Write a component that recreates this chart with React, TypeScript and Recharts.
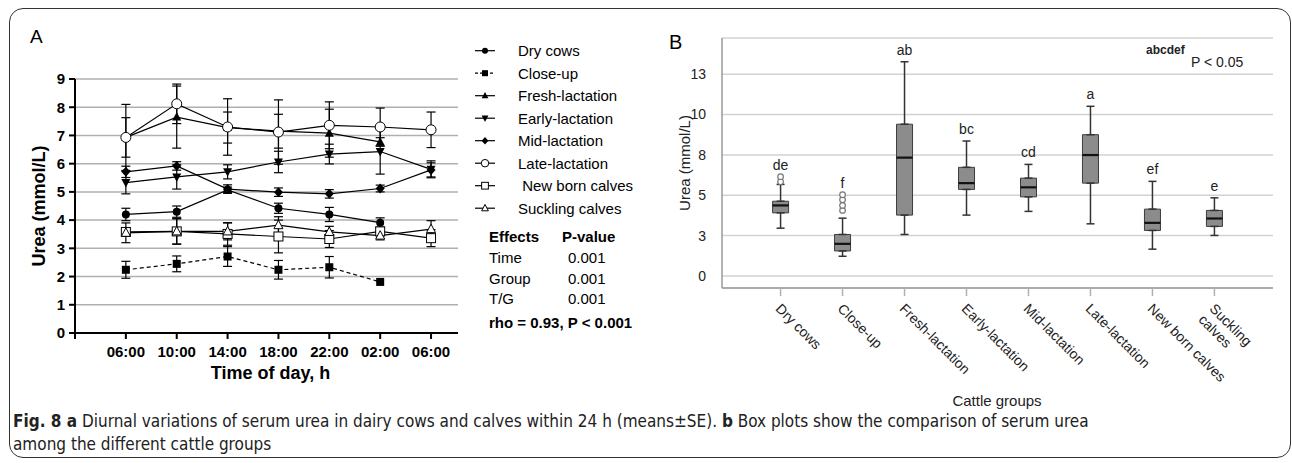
import React from 'react'
import {
  LineChart,
  Line,
  ComposedChart,
  Bar,
  Scatter,
  ErrorBar,
  XAxis,
  YAxis,
  CartesianGrid,
} from 'recharts'

const SANS = "'Liberation Sans', Arial, sans-serif"
const NARROW = "'Liberation Sans Narrow', 'DejaVu Sans Condensed', 'Liberation Sans', sans-serif"

// ---- panel A: diurnal means ± SE ----
const times = ['06:00', '10:00', '14:00', '18:00', '22:00', '02:00', '06:00']
const yTicksA = [0, 1, 2, 3, 4, 5, 6, 7, 8, 9]

const dryCows = [4.2, 4.3, 5.07, 4.42, 4.2, 3.91, null]
const dryCowsSE = [0.22, 0.2, 0.1, 0.18, 0.25, 0.17, null]
const closeUp = [2.24, 2.45, 2.71, 2.24, 2.33, 1.81, null]
const closeUpSE = [0.3, 0.28, 0.35, 0.33, 0.38, null, null]
const freshLact = [6.93, 7.65, 7.28, 7.15, 7.08, 6.77, null]
const freshLactSE = [0.7, 1.1, 0.55, 0.6, 0.85, 0.15, null]
const earlyLact = [5.33, 5.53, 5.71, 6.06, 6.34, 6.43, 5.8]
const earlyLactSE = [0.4, 0.43, 0.25, 0.38, 0.35, 0.8, 0.3]
const midLact = [5.71, 5.92, 5.1, 4.99, 4.93, 5.12, 5.78]
const midLactSE = [0.2, 0.15, 0.15, 0.15, 0.15, 0.12, 0.25]
const lateLact = [6.93, 8.12, 7.3, 7.12, 7.36, 7.3, 7.2]
const lateLactSE = [1.17, 0.7, 1.0, 1.14, 0.83, 0.67, 0.63]
const newBorn = [3.58, 3.6, 3.51, 3.42, 3.33, 3.6, 3.36]
const newBornSE = [0.1, 0.45, 0.4, 0.58, 0.3, 0.15, 0.3]
const suckling = [3.55, 3.6, 3.6, 3.82, 3.58, 3.45, 3.68]
const sucklingSE = [0.35, 0.45, 0.3, 0.3, 0.2, 0.15, 0.3]

const seriesA = [
  { key: 'dry', name: 'Dry cows', values: dryCows, se: dryCowsSE, marker: 'circle', dashed: false },
  { key: 'close', name: 'Close-up', values: closeUp, se: closeUpSE, marker: 'square', dashed: true },
  { key: 'fresh', name: 'Fresh-lactation', values: freshLact, se: freshLactSE, marker: 'triUp', dashed: false },
  { key: 'early', name: 'Early-lactation', values: earlyLact, se: earlyLactSE, marker: 'triDown', dashed: false },
  { key: 'mid', name: 'Mid-lactation', values: midLact, se: midLactSE, marker: 'diamond', dashed: false },
  { key: 'late', name: 'Late-lactation', values: lateLact, se: lateLactSE, marker: 'openCircle', dashed: false },
  { key: 'newborn', name: ' New born calves', values: newBorn, se: newBornSE, marker: 'openSquare', dashed: false },
  { key: 'suck', name: 'Suckling calves', values: suckling, se: sucklingSE, marker: 'openTri', dashed: false },
]

const effects = [
  ['Time', '0.001'],
  ['Group', '0.001'],
  ['T/G', '0.001'],
]

// ---- panel B: box plots ----
const groupTickLines = [
  ['Dry cows'],
  ['Close-up'],
  ['Fresh-lactation'],
  ['Early-lactation'],
  ['Mid-lactation'],
  ['Late-lactation'],
  ['New born calves'],
  ['Suckling', 'calves'],
]
const mins = [2.96, 1.22, 2.57, 3.77, 4.0, 3.23, 1.66, 2.51]
const q1s = [3.91, 1.55, 3.77, 5.36, 4.9, 5.75, 2.82, 3.07]
const medians = [4.37, 1.99, 7.33, 5.75, 5.49, 7.49, 3.29, 3.56]
const q3s = [4.63, 2.57, 9.4, 6.73, 6.06, 8.75, 4.14, 4.06]
const maxs = [5.67, 3.58, 13.27, 8.36, 6.91, 10.51, 5.86, 4.84]
const outliers = [[5.84, 6.15], [4.06, 4.37, 4.72, 5.03], [], [], [], [], [], []]
const letters = ['de', 'f', 'ab', 'bc', 'cd', 'a', 'ef', 'e']
const yTicksB = [0, 2.5, 5, 7.5, 10, 12.5]
const yTickLabelsB = ['0', '3', '5', '8', '10', '13']

const rowsA = times.map((t, i) => {
  const row: any = { x: i, time: t }
  seriesA.forEach((s) => {
    row[s.key] = s.values[i]
    row[s.key + 'Err'] = s.se[i]
  })
  return row
})

const rowsB = groupTickLines.map((_, i) => ({
  x: i,
  box: [q1s[i], q3s[i]],
  q1: q1s[i],
  q3: q3s[i],
  med: medians[i],
  upper: [0, maxs[i] - q3s[i]],
  lower: [q1s[i] - mins[i], 0],
  top: Math.max(maxs[i], ...outliers[i]),
  letter: letters[i],
}))

const outlierPoints = outliers.flatMap((arr, i) => arr.map((v) => ({ x: i, v })))

function Marker({ kind, cx, cy, s = 1 }: { kind: string; cx: number; cy: number; s?: number }) {
  const k = s
  switch (kind) {
    case 'circle':
      return <circle cx={cx} cy={cy} r={4 * k} fill="#000" />
    case 'square':
      return <rect x={cx - 4 * k} y={cy - 4 * k} width={8 * k} height={8 * k} fill="#000" />
    case 'triUp':
      return <path d={`M${cx},${cy - 5 * k}L${cx + 4.5 * k},${cy + 3.5 * k}L${cx - 4.5 * k},${cy + 3.5 * k}Z`} fill="#000" />
    case 'triDown':
      return <path d={`M${cx},${cy + 5 * k}L${cx + 4.5 * k},${cy - 3.5 * k}L${cx - 4.5 * k},${cy - 3.5 * k}Z`} fill="#000" />
    case 'diamond':
      return <path d={`M${cx},${cy - 5 * k}L${cx + 4.5 * k},${cy}L${cx},${cy + 5 * k}L${cx - 4.5 * k},${cy}Z`} fill="#000" />
    case 'openCircle':
      return <circle cx={cx} cy={cy} r={5 * k} fill="#fff" stroke="#000" strokeWidth={1} />
    case 'openSquare':
      return <rect x={cx - 4.5 * k} y={cy - 4.5 * k} width={9 * k} height={9 * k} fill="#fff" stroke="#000" strokeWidth={1} />
    default:
      return <path d={`M${cx},${cy - 5 * k}L${cx + 4.5 * k},${cy + 3.5 * k}L${cx - 4.5 * k},${cy + 3.5 * k}Z`} fill="#fff" stroke="#000" strokeWidth={1} />
  }
}

const ok = (v: any) => v != null && !Number.isNaN(v)

function GroupTick(props: any) {
  const { x, y, payload } = props
  const lines = groupTickLines[payload.value] || []
  return (
    <g transform={`translate(${x},${y})`}>
      <text transform="rotate(45)" fontSize={14} fontFamily={SANS} fill="#222">
        {lines.map((l, k) => (
          <tspan key={k} x={2} dy={k === 0 ? '0.72em' : '1.12em'}>
            {l}
          </tspan>
        ))}
      </text>
    </g>
  )
}

function ChartA() {
  return (
    <LineChart width={470} height={400} data={rowsA} margin={{ top: 79, right: 12, bottom: 0, left: 0 }}>
      <CartesianGrid vertical={false} stroke="#b0b0b0" strokeWidth={1.5} />
      <XAxis
        type="number"
        dataKey="x"
        domain={[-1, 6.53]}
        ticks={[-1, 0, 1, 2, 3, 4, 5, 6]}
        interval={0}
        allowDataOverflow
        height={67}
        tickFormatter={(v) => times[v] ?? ''}
        axisLine={{ stroke: '#000', strokeWidth: 2 }}
        tickLine={{ stroke: '#000', strokeWidth: 2 }}
        tickSize={6}
        tickMargin={7}
        tick={{ fill: '#000', fontSize: 15, fontWeight: 700, fontFamily: SANS }}
      />
      <YAxis
        type="number"
        domain={[0, 9]}
        ticks={yTicksA}
        interval={0}
        allowDataOverflow
        width={75}
        axisLine={{ stroke: '#000', strokeWidth: 2 }}
        tickLine={{ stroke: '#000', strokeWidth: 2 }}
        tickSize={6}
        tickMargin={4}
        tick={{ fill: '#000', fontSize: 15, fontWeight: 700, fontFamily: SANS }}
      />
      {seriesA.map((s) => (
        <Line
          key={s.key}
          dataKey={s.key}
          stroke="#000"
          strokeWidth={1.2}
          strokeDasharray={s.dashed ? '4 3' : undefined}
          isAnimationActive={false}
          activeDot={false}
          dot={(p: any) =>
            ok(p.cy) ? <Marker key={p.index} kind={s.marker} cx={p.cx} cy={p.cy} /> : <g key={p.index} />
          }
        >
          <ErrorBar dataKey={s.key + 'Err'} direction="y" width={4.5} stroke="#000" strokeWidth={1.2} />
        </Line>
      ))}
    </LineChart>
  )
}

function ChartB() {
  return (
    <ComposedChart width={640} height={420} data={rowsB} margin={{ top: 38, right: 7, bottom: 0, left: 0 }}>
      <CartesianGrid vertical={false} stroke="#d2d2d2" strokeWidth={1.5} />
      <XAxis
        type="number"
        dataKey="x"
        domain={[-0.945, 7.945]}
        ticks={[0, 1, 2, 3, 4, 5, 6, 7]}
        interval={0}
        allowDataOverflow
        height={132}
        tick={(p: any) => <GroupTick {...p} />}
        tickSize={8}
        tickMargin={5}
        axisLine={{ stroke: '#9a9a9a', strokeWidth: 1.5 }}
        tickLine={{ stroke: '#b0b0b0', strokeWidth: 1.5 }}
      />
      <YAxis
        type="number"
        domain={[-0.745, 14.74]}
        ticks={yTicksB}
        interval={0}
        allowDataOverflow
        width={82}
        tickLine={false}
        tickSize={0}
        tickMargin={16}
        tickFormatter={(v) => yTickLabelsB[yTicksB.indexOf(v)] ?? ''}
        axisLine={{ stroke: '#9a9a9a', strokeWidth: 1.5 }}
        tick={{ fill: '#222', fontSize: 14, fontFamily: SANS }}
      />
      <Scatter dataKey="q3" isAnimationActive={false} shape={() => <g />}>
        <ErrorBar dataKey="upper" direction="y" width={4} stroke="#333" strokeWidth={1.5} />
      </Scatter>
      <Scatter dataKey="q1" isAnimationActive={false} shape={() => <g />}>
        <ErrorBar dataKey="lower" direction="y" width={4} stroke="#333" strokeWidth={1.5} />
      </Scatter>
      <Bar dataKey="box" barSize={16} fill="#8c8c8c" stroke="#3c3c3c" strokeWidth={1} isAnimationActive={false} />
      <Scatter
        dataKey="med"
        isAnimationActive={false}
        shape={(p: any) =>
          ok(p.cy) ? <line x1={p.cx - 8} x2={p.cx + 8} y1={p.cy} y2={p.cy} stroke="#111" strokeWidth={2.2} /> : <g />
        }
      />
      <Scatter
        data={outlierPoints}
        dataKey="v"
        isAnimationActive={false}
        shape={(p: any) =>
          ok(p.cy) ? <circle cx={p.cx} cy={p.cy} r={2.8} fill="#fff" stroke="#777" strokeWidth={1.2} /> : <g />
        }
      />
      <Scatter
        dataKey="top"
        isAnimationActive={false}
        shape={(p: any) =>
          ok(p.cy) ? (
            <text x={p.cx} y={p.cy - 7} textAnchor="middle" fontSize={14} fontFamily={SANS} fill="#222">
              {p.payload.letter}
            </text>
          ) : (
            <g />
          )
        }
      />
    </ComposedChart>
  )
}

function Overlay() {
  const legendX = 475
  return (
    <svg width={1292} height={463} style={{ position: 'absolute', left: 0, top: 0, pointerEvents: 'none' }}>
      <text x={30} y={43} fontSize={19} fontFamily={SANS} fill="#000">A</text>
      <text x={669} y={49} fontSize={20} fontFamily={SANS} fill="#000">B</text>
      <text
        transform="translate(45,206) rotate(-90)"
        textAnchor="middle"
        fontSize={18}
        fontWeight={700}
        fontFamily={SANS}
        fill="#000"
      >
        Urea (mmol/L)
      </text>
      <text x={270.5} y={378.5} textAnchor="middle" fontSize={18} fontWeight={700} fontFamily={SANS} fill="#000">
        Time of day, h
      </text>
      {seriesA.map((s, i) => {
        const cy = 50.7 + 22.5 * i
        return (
          <g key={s.key}>
            <line
              x1={legendX}
              x2={legendX + 20}
              y1={cy}
              y2={cy}
              stroke="#000"
              strokeWidth={1.2}
              strokeDasharray={s.dashed ? '3 2' : undefined}
            />
            <Marker kind={s.marker} cx={legendX + 10} cy={cy} s={0.75} />
            <text x={518} y={cy + 5.3} fontSize={15} fontFamily={SANS} fill="#000" style={{ whiteSpace: 'pre' }}>
              {s.name}
            </text>
          </g>
        )
      })}
      <text x={489} y={242} fontSize={15} fontWeight={700} fontFamily={SANS} fill="#000">Effects</text>
      <text x={562} y={242} fontSize={15} fontWeight={700} fontFamily={SANS} fill="#000">P-value</text>
      {effects.map(([k, v], i) => (
        <g key={k}>
          <text x={489} y={263 + 20.5 * i} fontSize={15} fontFamily={SANS} fill="#000">{k}</text>
          <text x={568} y={263 + 20.5 * i} fontSize={15} fontFamily={SANS} fill="#000">{v}</text>
        </g>
      ))}
      <text x={489} y={328} fontSize={15} fontWeight={700} fontFamily={SANS} fill="#000">
        rho = 0.93, P &lt; 0.001
      </text>
      <text
        transform="translate(690,163) rotate(-90)"
        textAnchor="middle"
        fontSize={15}
        fontFamily={SANS}
        fill="#222"
      >
        Urea (mmol/L)
      </text>
      <text x={1146} y={54} fontSize={12} fontWeight={700} fontFamily={SANS} fill="#222">abcdef</text>
      <text x={1191} y={66.5} fontSize={14} fontFamily={SANS} fill="#222">P &lt; 0.05</text>
      <text x={997} y={406} textAnchor="middle" fontSize={15} fontFamily={SANS} fill="#222">Cattle groups</text>
    </svg>
  )
}

export default function App() {
  return (
    <div style={{ position: 'absolute', left: 0, top: 0, width: 1292, height: 463, background: '#fff', overflow: 'hidden' }}>
      <div
        style={{
          position: 'absolute',
          left: 9,
          top: 8,
          width: 1282,
          height: 450,
          border: '1.5px solid #333',
          borderRadius: 14,
          boxSizing: 'border-box',
        }}
      />
      <div style={{ position: 'absolute', left: 0, top: 0 }}>
        <ChartA />
      </div>
      <div style={{ position: 'absolute', left: 640, top: 0 }}>
        <ChartB />
      </div>
      <Overlay />
      <div
        style={{
          position: 'absolute',
          left: 13,
          top: 410,
          width: 1270,
          fontFamily: NARROW,
          fontSize: 17,
          lineHeight: '23px',
          color: '#222',
        }}
      >
        <b>Fig. 8 a</b> Diurnal variations of serum urea in dairy cows and calves within 24 h (means±SE). <b>b</b> Box
        plots show the comparison of serum urea
        <br />
        among the different cattle groups
      </div>
    </div>
  )
}
